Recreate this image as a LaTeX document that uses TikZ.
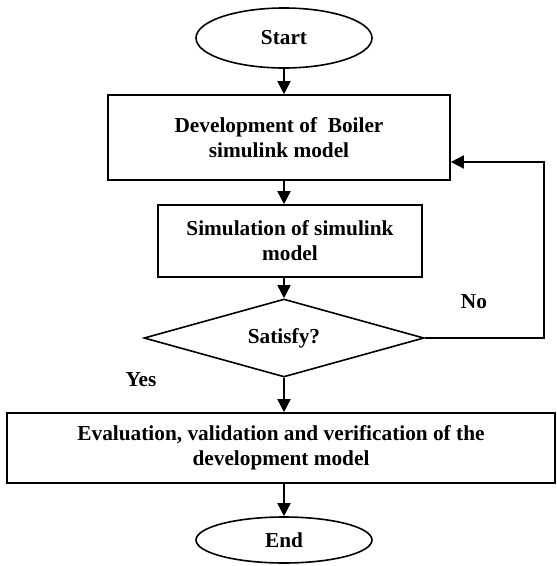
\documentclass[tikz,border=0pt]{standalone}
\usepackage{fontspec}
\setmainfont{Liberation Serif}
\usetikzlibrary{shapes.geometric,arrows.meta}
\begin{document}
\begin{tikzpicture}[x=1pt,y=-1pt,
  every node/.style={font=\fontsize{21.3}{25}\selectfont\bfseries, align=center},
  ln/.style={line width=1.6pt},
  term/.style={ln, draw, ellipse, inner sep=0pt},
  proc/.style={ln, draw, rectangle, inner sep=0pt},
  dec/.style={ln, draw, diamond, inner sep=0pt, shape aspect=3.6},
  arr/.style={ln, -{Triangle[length=13pt,width=13pt]}},
  lbl/.style={font=\fontsize{21.3}{25}\selectfont\bfseries}
]
\useasboundingbox (0,0) rectangle (557,566);
\node[term, minimum width=176pt, minimum height=60pt] (start) at (284,38) {Start};
\node[proc, minimum width=342pt, minimum height=85pt] (dev) at (279,137.5) {Development of\ \ Boiler\\simulink model};
\node[proc, minimum width=264pt, minimum height=72pt] (sim) at (290,241) {Simulation of simulink\\model};
\node[dec, minimum width=280pt, minimum height=78pt] (sat) at (284,338) {Satisfy?};
\node[proc, minimum width=548pt, minimum height=70pt] (eval) at (281,448) {Evaluation, validation and verification of the\\development model};
\node[term, minimum width=176pt, minimum height=46pt] (end) at (284,540) {End};
\node[lbl] (no) at (474,302) {No};
\node[lbl] (yes) at (141,380) {Yes};
\coordinate (fb) at (544,162);
\draw[arr] (start.south) -- (start.south |- dev.north);
\draw[arr] (start.south |- dev.south) -- (start.south |- sim.north);
\draw[arr] (start.south |- sim.south) -- (sat.north);
\draw[arr] (sat.south) -- (sat.south |- eval.north);
\draw[arr] (sat.south |- eval.south) -- (end.north);
\draw[arr] (sat.east) -| (fb) -- (dev.east |- fb);
\end{tikzpicture}
\end{document}
